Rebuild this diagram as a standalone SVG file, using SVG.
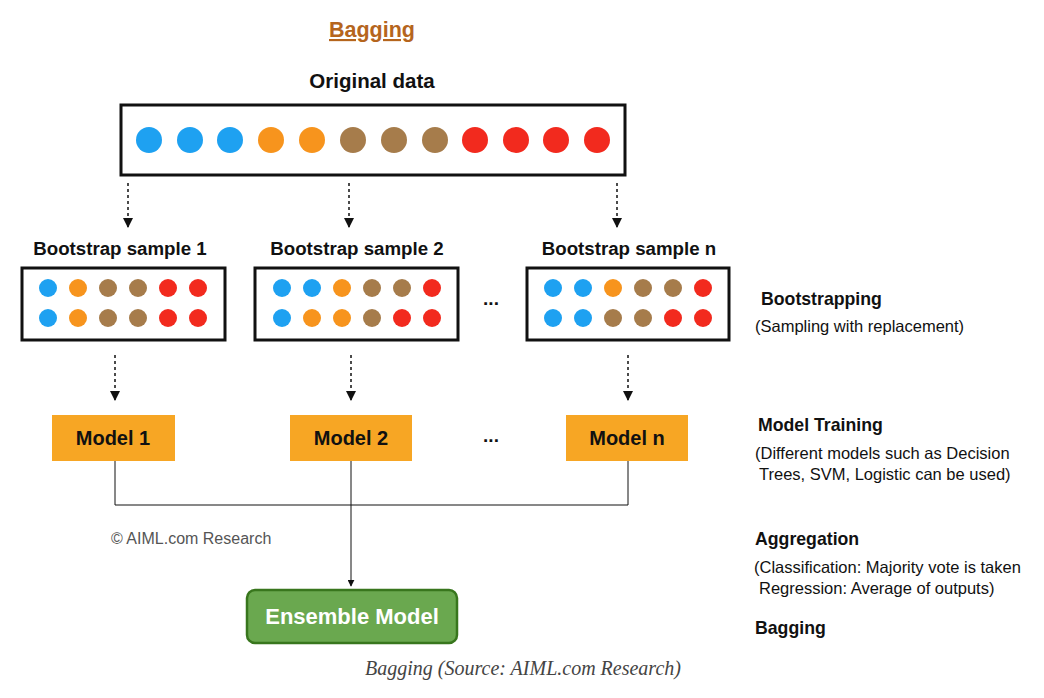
<svg xmlns="http://www.w3.org/2000/svg" width="1044" height="698" viewBox="0 0 1044 698">
<style>
text{font-family:"Liberation Sans",Arial,sans-serif;fill:#111}
.h{font-weight:bold;font-size:17.7px}
.bs{font-weight:bold;font-size:18.7px}
.mt{font-weight:bold;font-size:20px}
.s{font-size:16.5px}
.box{fill:#fff;stroke:#111;stroke-width:3}
.dash{stroke:#111;stroke-width:1.5;stroke-dasharray:3,3;fill:none}
.ln{stroke:#111;stroke-width:1;fill:none}
.m{fill:#f7a624}
.b{fill:#1ea1f1}.o{fill:#f7941d}.w{fill:#a67c4b}.r{fill:#f22a1e}
</style>
<defs><marker id="ah" viewBox="0 0 10 10" refX="9" refY="5" markerWidth="7" markerHeight="7" orient="auto"><path d="M0,0L10,5L0,10z" fill="#111"/></marker></defs>
<rect width="1044" height="698" fill="#fff"/>
<text x="372" y="37" text-anchor="middle" style="font-weight:bold;font-size:21.5px;fill:#b5651d;text-decoration:underline">Bagging</text>
<g id="original">
<text x="372" y="88" text-anchor="middle" style="font-weight:bold;font-size:20.5px">Original data</text>
<rect class="box" x="121" y="105" width="504" height="70"/>
<g><circle class="b" cx="149" cy="140" r="13"/><circle class="b" cx="190" cy="140" r="13"/><circle class="b" cx="230" cy="140" r="13"/><circle class="o" cx="271" cy="140" r="13"/><circle class="o" cx="312" cy="140" r="13"/><circle class="w" cx="353" cy="140" r="13"/><circle class="w" cx="394" cy="140" r="13"/><circle class="w" cx="435" cy="140" r="13"/><circle class="r" cx="475" cy="140" r="13"/><circle class="r" cx="516" cy="140" r="13"/><circle class="r" cx="556" cy="140" r="13"/><circle class="r" cx="597" cy="140" r="13"/></g>
</g>
<g id="sample1">
<text class="bs" x="120" y="255" text-anchor="middle">Bootstrap sample 1</text>
<rect class="box" x="22" y="268" width="203" height="72"/>
<circle class="b" cx="48" cy="288" r="9"/><circle class="o" cx="78" cy="288" r="9"/><circle class="w" cx="108" cy="288" r="9"/><circle class="w" cx="138" cy="288" r="9"/><circle class="r" cx="168" cy="288" r="9"/><circle class="r" cx="198" cy="288" r="9"/>
<circle class="b" cx="48" cy="318" r="9"/><circle class="o" cx="78" cy="318" r="9"/><circle class="w" cx="108" cy="318" r="9"/><circle class="w" cx="138" cy="318" r="9"/><circle class="r" cx="168" cy="318" r="9"/><circle class="r" cx="198" cy="318" r="9"/>
</g>
<g id="sample2">
<text class="bs" x="357" y="255" text-anchor="middle">Bootstrap sample 2</text>
<rect class="box" x="255" y="268" width="203" height="72"/>
<circle class="b" cx="282" cy="288" r="9"/><circle class="b" cx="312" cy="288" r="9"/><circle class="o" cx="342" cy="288" r="9"/><circle class="w" cx="372" cy="288" r="9"/><circle class="w" cx="402" cy="288" r="9"/><circle class="r" cx="432" cy="288" r="9"/>
<circle class="b" cx="282" cy="318" r="9"/><circle class="o" cx="312" cy="318" r="9"/><circle class="o" cx="342" cy="318" r="9"/><circle class="w" cx="372" cy="318" r="9"/><circle class="r" cx="402" cy="318" r="9"/><circle class="r" cx="432" cy="318" r="9"/>
</g>
<text x="491" y="305" text-anchor="middle" style="font-weight:bold;font-size:19px">...</text>
<g id="samplen">
<text class="bs" x="629" y="255" text-anchor="middle">Bootstrap sample n</text>
<rect class="box" x="527" y="268" width="202" height="72"/>
<circle class="b" cx="553" cy="288" r="9"/><circle class="b" cx="583" cy="288" r="9"/><circle class="o" cx="613" cy="288" r="9"/><circle class="w" cx="643" cy="288" r="9"/><circle class="w" cx="673" cy="288" r="9"/><circle class="r" cx="703" cy="288" r="9"/>
<circle class="b" cx="553" cy="318" r="9"/><circle class="b" cx="583" cy="318" r="9"/><circle class="w" cx="613" cy="318" r="9"/><circle class="w" cx="643" cy="318" r="9"/><circle class="r" cx="673" cy="318" r="9"/><circle class="r" cx="703" cy="318" r="9"/>
</g>
<g id="model1"><rect class="m" x="52" y="415" width="123" height="46"/><text class="mt" x="113" y="445" text-anchor="middle">Model 1</text></g>
<g id="model2"><rect class="m" x="290" y="415" width="122" height="46"/><text class="mt" x="351" y="445" text-anchor="middle">Model 2</text></g>
<text x="491" y="442" text-anchor="middle" style="font-weight:bold;font-size:19px">...</text>
<g id="modeln"><rect class="m" x="566" y="415" width="122" height="46"/><text class="mt" x="627" y="445" text-anchor="middle">Model n</text></g>
<g id="ensemble"><rect x="247" y="590" width="210" height="53" rx="8" fill="#6aa84f" stroke="#38761d" stroke-width="2.5"/><text x="352" y="624" text-anchor="middle" style="font-weight:bold;font-size:22px;fill:#fff">Ensemble Model</text></g>
<g id="connectors">
<line class="dash" x1="128" y1="183" x2="128" y2="227" marker-end="url(#ah)"/>
<line class="dash" x1="349" y1="183" x2="349" y2="227" marker-end="url(#ah)"/>
<line class="dash" x1="617" y1="183" x2="617" y2="227" marker-end="url(#ah)"/>
<line class="dash" x1="115" y1="355" x2="115" y2="400" marker-end="url(#ah)"/>
<line class="dash" x1="351" y1="355" x2="351" y2="400" marker-end="url(#ah)"/>
<line class="dash" x1="628" y1="355" x2="628" y2="400" marker-end="url(#ah)"/>
<path class="ln" d="M115,461V505H628V461M351,461V505"/>
<line class="ln" x1="351" y1="505" x2="351" y2="586" marker-end="url(#ah)"/>
</g>
<g id="notes">
<text class="h" x="761" y="305">Bootstrapping</text>
<text class="s" x="755" y="332">(Sampling with replacement)</text>
<text class="h" x="758" y="431">Model Training</text>
<text class="s" x="755" y="459">(Different models such as Decision</text>
<text class="s" x="759" y="480">Trees, SVM, Logistic can be used)</text>
<text class="h" x="755" y="545">Aggregation</text>
<text class="s" x="754" y="573">(Classification: Majority vote is taken</text>
<text class="s" x="759" y="594">Regression: Average of outputs)</text>
<text class="h" x="755" y="634">Bagging</text>
<text x="111" y="544" style="font-size:16px;fill:#555">© AIML.com Research</text>
<text x="523" y="675" text-anchor="middle" style="font-family:'Liberation Serif',serif;font-style:italic;font-size:20px;fill:#444">Bagging (Source: AIML.com Research)</text>
</g>
</svg>
